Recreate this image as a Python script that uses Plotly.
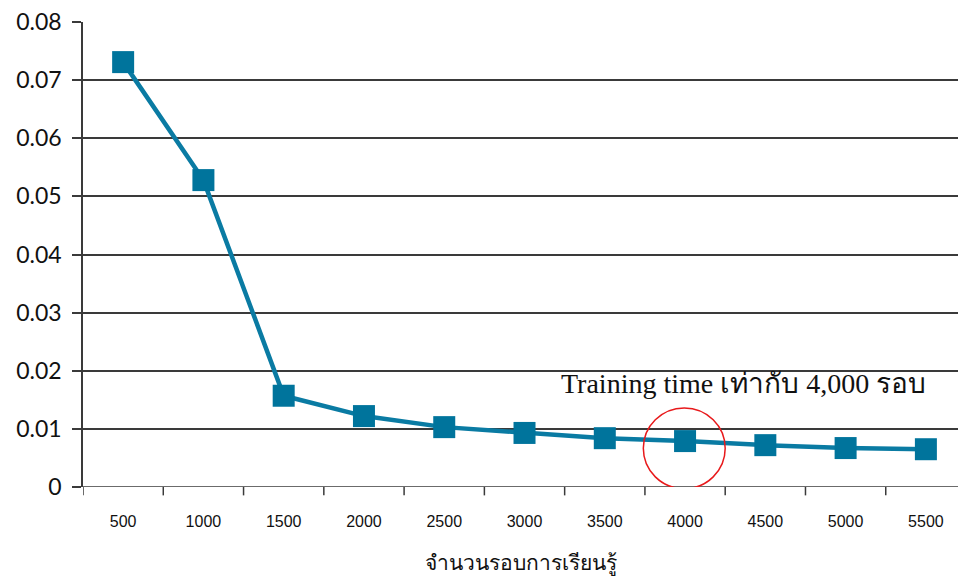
import plotly.graph_objects as go

categories = ["500", "1000", "1500", "2000", "2500", "3000", "3500", "4000", "4500", "5000", "5500"]
error_values = [0.0731, 0.0528, 0.0157, 0.0122, 0.0103, 0.0093, 0.0084, 0.0079, 0.0072, 0.0067, 0.0065]
y_ticks = [0, 0.01, 0.02, 0.03, 0.04, 0.05, 0.06, 0.07, 0.08]
y_tick_labels = ["0", "0.01", "0.02", "0.03", "0.04", "0.05", "0.06", "0.07", "0.08"]
x_title = "จำนวนรอบการเรียนรู้"
note_text = "Training time เท่ากับ 4,000 รอบ"

fig = go.Figure()
fig.add_trace(go.Scatter(
    x=list(range(len(categories))), y=error_values, mode="lines+markers",
    line=dict(color="#0A7BA3", width=4.5),
    marker=dict(symbol="square", size=22, color="#00749C", line=dict(width=0)),
    showlegend=False,
))

fig.update_layout(
    width=958, height=582,
    margin=dict(l=83, r=0, t=22, b=95),
    paper_bgcolor="white", plot_bgcolor="white",
    xaxis=dict(
        range=[-0.5, 10.4],
        tickmode="array", tickvals=list(range(len(categories))), ticktext=categories,
        showgrid=False, ticks="", showline=False, zeroline=False,
        tickfont=dict(family="Liberation Sans Narrow, Arial Narrow, Liberation Sans", size=16, color="#111"),
        title=dict(text=x_title, font=dict(family="Noto Sans, Liberation Serif", size=21, color="#111"), standoff=26),
        ticklabelstandoff=23,
    ),
    yaxis=dict(
        range=[0, 0.08], tickmode="array", tickvals=y_ticks, ticktext=y_tick_labels,
        showgrid=True, gridcolor="#3a3a3a", gridwidth=1.5,
        ticks="outside", ticklen=9, tickcolor="#3a3a3a", tickwidth=1.5,
        showline=True, linecolor="#3a3a3a", linewidth=1.5,
        zeroline=False,
        tickfont=dict(family="Lato, Open Sans", size=23, color="#111"),
        ticklabelstandoff=6,
    ),
)

# boundary tick marks on the category axis
for i in range(len(categories) + 1):
    fig.add_shape(type="line", xref="x", yref="paper", x0=i - 0.5, x1=i - 0.5, y0=0, y1=-0.018,
                  line=dict(color="#3a3a3a", width=1.5))
fig.add_shape(type="line", xref="paper", yref="y", x0=0, x1=1, y0=0, y1=0,
              line=dict(color="#3a3a3a", width=1.5))

fig.add_shape(type="circle", xref="x", yref="y", x0=7 - 0.52, x1=7 + 0.5, y0=-0.0003, y1=0.0136,
              line=dict(color="#E8191B", width=1.5))

fig.add_annotation(x=7.73, y=0.0178, xref="x", yref="y", text=note_text, showarrow=False,
                   font=dict(family="Liberation Serif, Noto Serif, serif", size=28, color="#111"))

fig.write_html("out.html")
